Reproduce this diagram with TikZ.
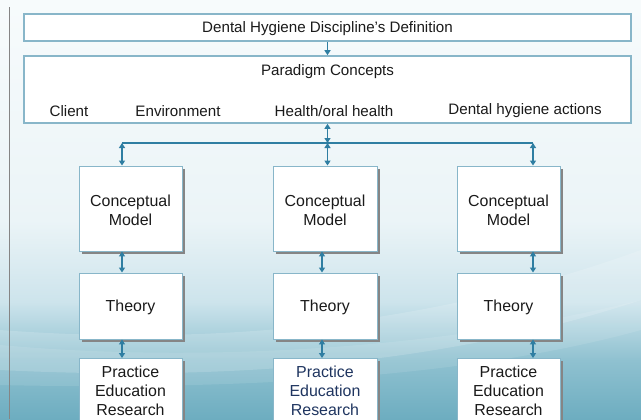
\documentclass[tikz,border=0pt]{standalone}
\usepackage{fontspec}
\setmainfont{Liberation Sans}
\usetikzlibrary{arrows.meta,calc}
\definecolor{bgtop}{HTML}{F7FBFC}
\definecolor{bgmid}{HTML}{EBF4F7}
\definecolor{bgmid2}{HTML}{CDE4EC}
\definecolor{bgmid3}{HTML}{8FC1D0}
\definecolor{bgbot}{HTML}{6DADC0}
\definecolor{boxline}{HTML}{88B6C9}
\definecolor{arrowc}{HTML}{2F7EA2}
\definecolor{txt}{HTML}{1A1A1A}
\definecolor{navy}{HTML}{1F3560}
\definecolor{shadowc}{HTML}{858585}
\pgfdeclareverticalshading{bgshade}{100bp}{color(0bp)=(bgbot); color(25bp)=(bgbot); color(32bp)=(bgmid3); color(39bp)=(bgmid2); color(48.7bp)=(bgmid); color(75bp)=(bgtop); color(100bp)=(bgtop)}
\tikzset{
  topbox/.style={draw=boxline, line width=1.6bp, fill=white, inner sep=0pt, minimum width=607bp},
  lowbox/.style={draw=boxline, line width=0.9bp, fill=white, inner sep=0pt, minimum width=103bp, align=center, text=txt,
    font=\fontsize{16}{19.5}\selectfont},
  lbl/.style={inner sep=0pt, text=txt, font=\fontsize{15.2}{18}\selectfont},
  conn/.style={draw=arrowc, line width=1.8bp},
  dbl/.style={conn, {Triangle[length=5bp,width=6bp]}-{Triangle[length=5bp,width=6bp]}},
  sgl/.style={conn, -{Triangle[length=5bp,width=6bp]}},
}
\begin{document}
\begin{tikzpicture}[x=1bp,y=-1bp]
\useasboundingbox (0,0) rectangle (641,419);
% background
\shade[shading=bgshade] (0,0) rectangle (641,419);
\fill[white, opacity=0.16] (0,330) .. controls (200,345) and (420,330) .. (641,250) -- (641,300) .. controls (430,370) and (200,380) .. (0,370) -- cycle;
\fill[white, opacity=0.10] (0,345) .. controls (220,365) and (460,345) .. (641,300) -- (641,330) .. controls (460,380) and (220,390) .. (0,385) -- cycle;
\draw[shadowc, line width=1bp] (9.5,7) -- (9.5,419);

% top boxes
\node[topbox, minimum height=27bp] (def) at (327.5,27.5) {};
\node[lbl] at (327.5,29) {Dental Hygiene Discipline’s Definition};
\node[topbox, minimum height=67bp] (para) at (327.5,89.5) {};
\node[lbl] (pc) at (327.5,72) {Paradigm Concepts};
\node[lbl] (cl) at (69,111) {Client};
\node[lbl] (env) at (178,111) {Environment};
\node[lbl] (hoh) at (334,111) {Health/oral health};
\node[lbl] (dha) at (525,111) {Dental hygiene actions};

% lower boxes with shadows
\foreach \cx/\w in {130.5/103,325/104,508.5/103}{
  \fill[shadowc] (\cx-\w/2+2.5,168.5) rectangle (\cx+\w/2+2.5,253.5);
  \fill[shadowc] (\cx-\w/2+2.5,275.5) rectangle (\cx+\w/2+2.5,341.5);
  \fill[shadowc] (\cx-\w/2+2.5,360.5) rectangle (\cx+\w/2+2.5,440);
}
\node[lowbox, minimum height=85bp] (cm1) at (130.5,208.5) {};
\node[lowbox, minimum height=85bp, minimum width=104bp] (cm2) at (325,208.5) {};
\node[lowbox, minimum height=85bp] (cm3) at (508.5,208.5) {};
\node[lowbox, minimum height=66bp] (th1) at (130.5,306) {};
\node[lowbox, minimum height=66bp, minimum width=104bp] (th2) at (325,306) {};
\node[lowbox, minimum height=66bp] (th3) at (508.5,306) {};
\node[lowbox, minimum height=82bp, anchor=north] (pr1) at (130.5,358) {};
\node[lowbox, minimum height=82bp, minimum width=104bp, anchor=north] (pr2) at (325,358) {};
\node[lowbox, minimum height=82bp, anchor=north] (pr3) at (508.5,358) {};
\foreach \n in {cm1,cm2,cm3}{\node[lowbox, draw=none, fill=none] at ($(\n.center)+(0,2)$) {Conceptual\\Model};}
\foreach \n in {th1,th2,th3}{\node[lowbox, draw=none, fill=none] at ($(\n.center)+(0,1.5)$) {Theory};}
\node[lowbox, draw=none, fill=none, anchor=north] at ($(pr1.north)+(0,7)$) {Practice\\Education\\Research};
\node[lowbox, draw=none, fill=none, anchor=north, text=navy] at ($(pr2.north)+(0,7)$) {Practice\\Education\\Research};
\node[lowbox, draw=none, fill=none, anchor=north] at ($(pr3.north)+(0,7)$) {Practice\\Education\\Research};

% connectors
\coordinate (hub) at (327.5,143);
\coordinate (hl) at (122,143);
\coordinate (hr) at (533,143);
\coordinate (m2) at (322,143);
\draw[sgl] (def.south) -- (para.north);
\draw[conn] (hl) -- (hr);
\draw[dbl] (para.south) -- (hub);
\draw[dbl] (hl) -- (hl |- cm1.north);
\draw[dbl] (hub) -- (hub |- cm2.north);
\draw[dbl] (hr) -- (hr |- cm3.north);
\draw[dbl] (hl |- cm1.south) -- (hl |- th1.north);
\draw[dbl] (m2 |- cm2.south) -- (m2 |- th2.north);
\draw[dbl] (hr |- cm3.south) -- (hr |- th3.north);
\draw[dbl] (hl |- th1.south) -- (hl |- pr1.north);
\draw[dbl] (m2 |- th2.south) -- (m2 |- pr2.north);
\draw[dbl] (hr |- th3.south) -- (hr |- pr3.north);
\end{tikzpicture}
\end{document}
